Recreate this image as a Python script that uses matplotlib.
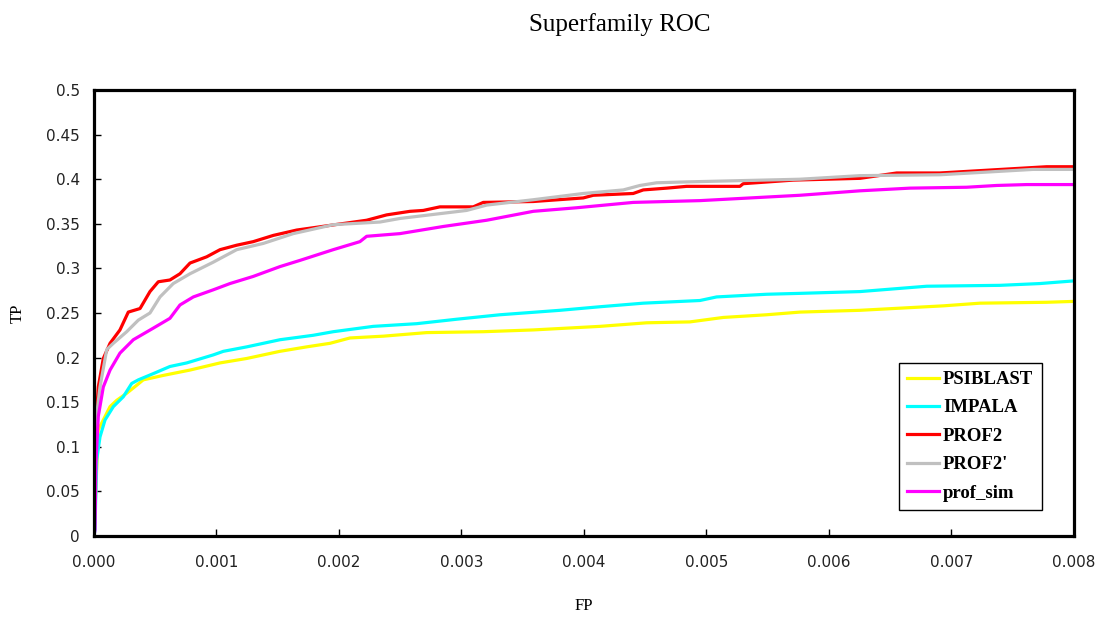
import numpy as np
import matplotlib
matplotlib.use('Agg')
import matplotlib.pyplot as plt

# curves (FP, TP)
psiblast_fp = [0, 0.000035, 0.000076, 0.000131, 0.000185, 0.000267, 0.000349, 0.000402, 0.000566, 0.000784,
               0.001029, 0.001247, 0.001518, 0.001736, 0.001927, 0.00209, 0.002362, 0.002716, 0.003178, 0.003586,
               0.004131, 0.004512, 0.004865, 0.005137, 0.005491, 0.005763, 0.006253, 0.006525, 0.006933, 0.007233,
               0.007777, 0.008]
psiblast_tp = [0, 0.119, 0.130, 0.145, 0.152, 0.160, 0.169, 0.175, 0.180, 0.186,
               0.194, 0.199, 0.207, 0.212, 0.216, 0.222, 0.224, 0.228, 0.229, 0.231,
               0.235, 0.239, 0.240, 0.245, 0.248, 0.251, 0.253, 0.255, 0.258, 0.261,
               0.262, 0.263]

impala_fp = [0, 0.000008, 0.000022, 0.000049, 0.00009, 0.000158, 0.000239, 0.000308, 0.000362, 0.000484,
             0.00062, 0.000757, 0.000974, 0.001056, 0.001247, 0.001518, 0.001682, 0.00179, 0.001953, 0.00228,
             0.002634, 0.002961, 0.003314, 0.003804, 0.004131, 0.004484, 0.004947, 0.005083, 0.005491, 0.005763,
             0.006253, 0.006798, 0.007396, 0.007722, 0.008]
impala_tp = [0, 0.007, 0.085, 0.111, 0.130, 0.145, 0.156, 0.171, 0.175, 0.182,
             0.190, 0.194, 0.203, 0.207, 0.212, 0.220, 0.223, 0.225, 0.229, 0.235,
             0.238, 0.243, 0.248, 0.253, 0.257, 0.261, 0.264, 0.268, 0.271, 0.272,
             0.274, 0.280, 0.281, 0.283, 0.286]

prof2_fp = [0, 0.000008, 0.000035, 0.000076, 0.000131, 0.000212, 0.00028, 0.000376, 0.000457, 0.000525,
            0.00062, 0.000702, 0.000784, 0.00092, 0.001029, 0.001165, 0.0013, 0.001464, 0.001655, 0.002226,
            0.002389, 0.00258, 0.002688, 0.002824, 0.003096, 0.003178, 0.003586, 0.003994, 0.004076, 0.004402,
            0.004484, 0.004675, 0.004838, 0.005273, 0.0053, 0.005708, 0.006253, 0.006553, 0.006906, 0.007777,
            0.008]
prof2_tp = [0, 0.111, 0.167, 0.199, 0.216, 0.231, 0.251, 0.255, 0.274, 0.285,
            0.287, 0.294, 0.306, 0.313, 0.321, 0.326, 0.330, 0.337, 0.343, 0.354,
            0.360, 0.364, 0.365, 0.369, 0.369, 0.374, 0.375, 0.379, 0.382, 0.384,
            0.388, 0.390, 0.392, 0.392, 0.395, 0.399, 0.401, 0.407, 0.407, 0.414,
            0.414]

prof2p_fp = [0, 0.000008, 0.000049, 0.000104, 0.000158, 0.000267, 0.000362, 0.000457, 0.000539, 0.000647,
             0.000784, 0.000974, 0.001165, 0.001382, 0.001627, 0.001953, 0.002335, 0.002498, 0.003042, 0.003206,
             0.003586, 0.003994, 0.004321, 0.004457, 0.004593, 0.004838, 0.005763, 0.006253, 0.006906, 0.007287,
             0.007665, 0.008]
prof2p_tp = [0, 0.12, 0.167, 0.209, 0.216, 0.229, 0.242, 0.250, 0.268, 0.283,
             0.294, 0.307, 0.321, 0.328, 0.339, 0.349, 0.352, 0.356, 0.365, 0.371,
             0.377, 0.384, 0.388, 0.393, 0.396, 0.397, 0.400, 0.404, 0.405, 0.408,
             0.411, 0.411]

profsim_fp = [0, 0.000008, 0.000016, 0.000035, 0.000076, 0.000131, 0.000212, 0.000321, 0.000484, 0.00062,
              0.000702, 0.000811, 0.000974, 0.00111, 0.0013, 0.001518, 0.001682, 0.001953, 0.002171, 0.002226,
              0.002498, 0.002851, 0.003206, 0.003586, 0.00394, 0.004402, 0.004947, 0.005355, 0.005763, 0.006253,
              0.006661, 0.007124, 0.007369, 0.007614, 0.008]
profsim_tp = [0, 0.007, 0.082, 0.134, 0.167, 0.186, 0.205, 0.220, 0.233, 0.244,
              0.259, 0.268, 0.276, 0.283, 0.291, 0.302, 0.309, 0.321, 0.330, 0.336,
              0.339, 0.347, 0.354, 0.364, 0.368, 0.374, 0.376, 0.379, 0.382, 0.387,
              0.390, 0.391, 0.393, 0.394, 0.394]

x_ticks = [0.000, 0.001, 0.002, 0.003, 0.004, 0.005, 0.006, 0.007, 0.008]
x_labels = ['0.000', '0.001', '0.002', '0.003', '0.004', '0.005', '0.006', '0.007', '0.008']
y_ticks = [0, 0.05, 0.1, 0.15, 0.2, 0.25, 0.3, 0.35, 0.4, 0.45, 0.5]
y_labels = ['0', '0.05', '0.1', '0.15', '0.2', '0.25', '0.3', '0.35', '0.4', '0.45', '0.5']

serif = 'Liberation Serif'

fig = plt.figure(figsize=(10.98, 6.21), dpi=100)
ax = fig.add_axes([0.0856, 0.137, 0.8925, 0.718])

lw = 2.3
ax.plot(psiblast_fp, psiblast_tp, color='#FFFF00', lw=lw, label='PSIBLAST')
ax.plot(impala_fp, impala_tp, color='#00FFFF', lw=lw, label='IMPALA')
ax.plot(prof2_fp, prof2_tp, color='#FF0000', lw=lw, label='PROF2')
ax.plot(prof2p_fp, prof2p_tp, color='#C0C0C0', lw=lw, label="PROF2'")
ax.plot(profsim_fp, profsim_tp, color='#FF00FF', lw=lw, label='prof_sim')

ax.set_xlim(0, 0.008)
ax.set_ylim(0, 0.5)
ax.set_xticks(x_ticks)
ax.set_xticklabels(x_labels)
ax.set_yticks(y_ticks)
ax.set_yticklabels(y_labels)
ax.tick_params(direction='in', length=5, width=1, labelsize=11, colors='black')
ax.tick_params(axis='x', pad=14)
ax.tick_params(axis='y', pad=10)
for lab in ax.get_xticklabels() + ax.get_yticklabels():
    lab.set_color('#222222')

for s in ax.spines.values():
    s.set_linewidth(2.3)
    s.set_color('black')

ax.set_xlabel('FP', fontfamily=serif, fontsize=12)
ax.xaxis.set_label_coords(0.5, -0.14)
ax.set_ylabel('TP', fontfamily=serif, fontsize=12)
ax.yaxis.set_label_coords(-0.07, 0.5)

fig.text(620 / 1098, 1 - 25 / 621, 'Superfamily ROC', fontfamily=serif, fontsize=18,
         ha='center', va='center')

leg = ax.legend(loc='lower right', bbox_to_anchor=(0.967, 0.058), fancybox=False,
                edgecolor='black', framealpha=1, borderaxespad=0,
                prop={'family': serif, 'size': 13.5, 'weight': 'bold'},
                handlelength=1.7, handletextpad=0.2, labelspacing=0.6, borderpad=0.45)
leg.get_frame().set_linewidth(1)

fig.savefig('out.png', dpi=100)
